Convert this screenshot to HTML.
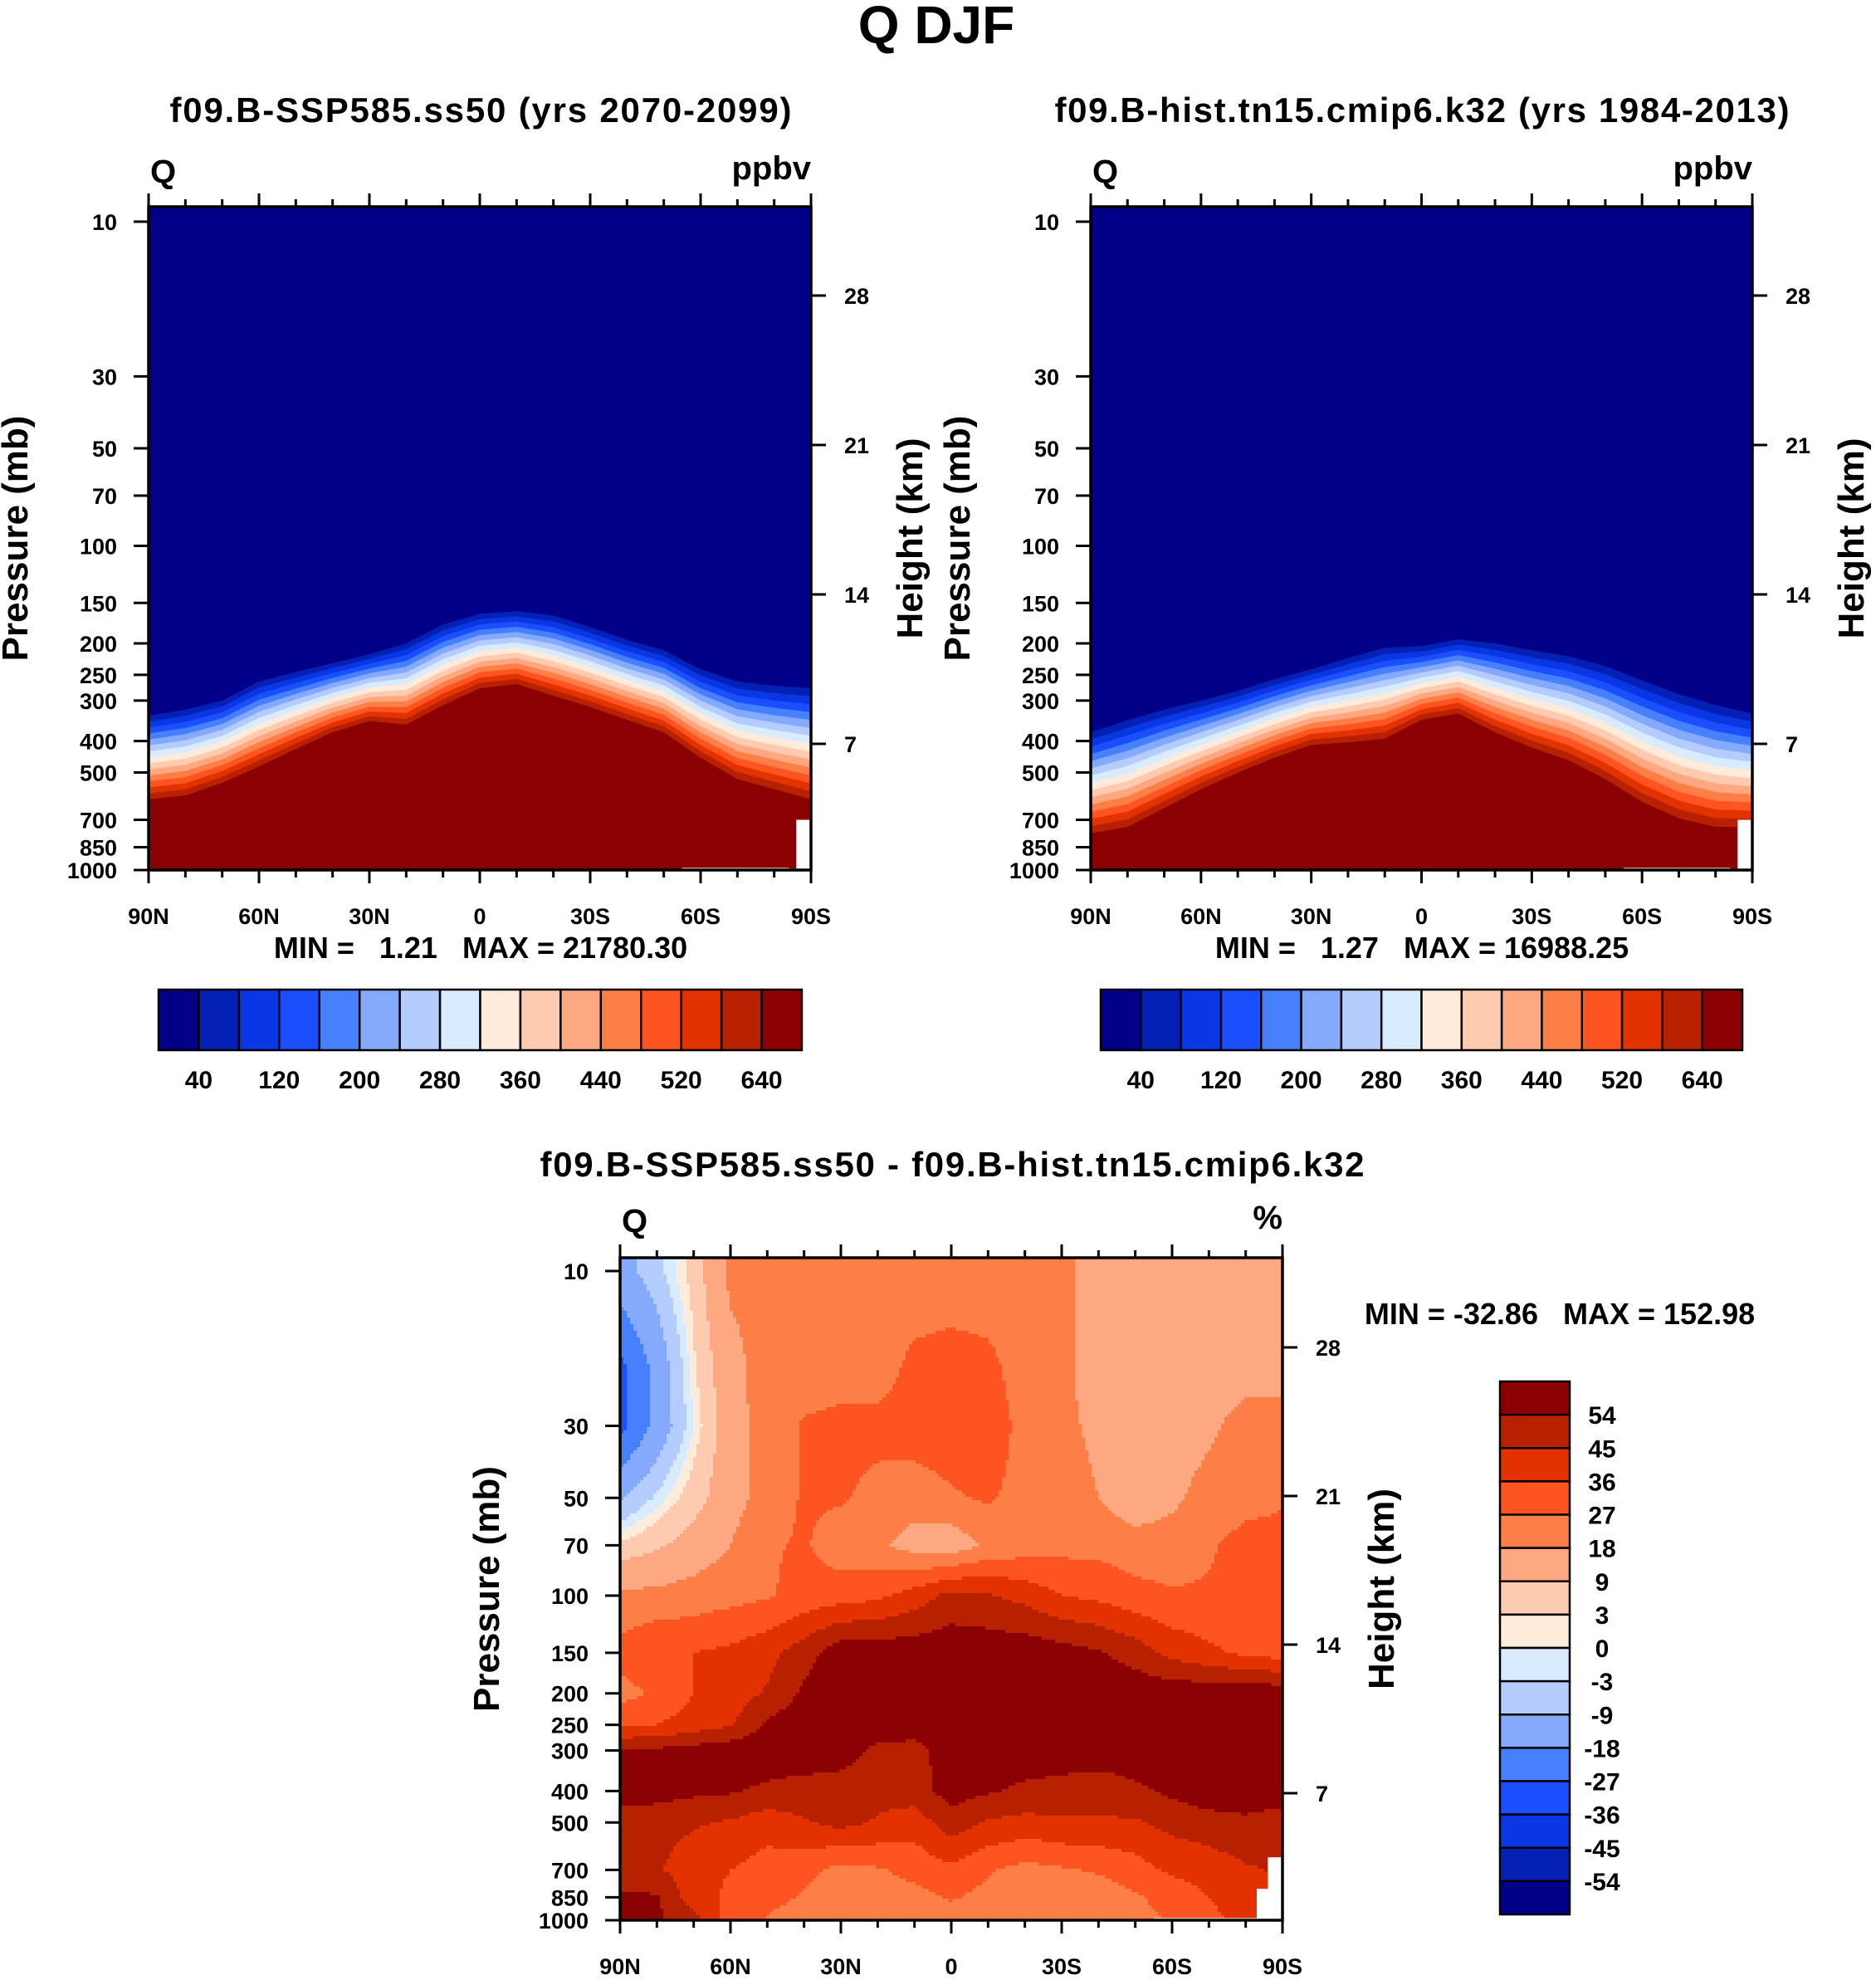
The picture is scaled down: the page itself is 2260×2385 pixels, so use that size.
<!DOCTYPE html>
<html><head><meta charset="utf-8">
<style>
html,body{margin:0;padding:0;background:#fff;}
#wrap{position:relative;width:2260px;height:2385px;overflow:hidden;}
svg{position:absolute;left:0;top:0;}
text{font-family:"Liberation Sans",Arial,sans-serif;font-weight:bold;fill:#000;white-space:pre;}
</style></head>
<body>
<div id="wrap">
<svg id="s" width="2260" height="2385" viewBox="0 0 2260 2385"></svg>
</div>
<script>
// ---------- data ----------
const lats = [90,80,70,60,50,40,30,20,10,0,-10,-20,-30,-40,-50,-60,-70,-80,-90];
// panel 1: pressure (mb) of the 40 ppbv contour and the 640 ppbv contour
const p1Top = [334,320,300,262,245,230,216,200,175,162,159,164,178,195,210,240,262,270,275];
const p1Bot = [605,589,538,479,423,376,347,356,310,275,267,290,314,344,376,450,524,563,605];
// panel 2
const p2Top = [376,345,320,300,280,258,240,222,206,204,194,200,210,219,235,260,287,310,329];
const p2Bot = [771,736,644,563,501,450,411,404,393,344,329,376,419,458,524,616,692,736,736];
const contourLabels = ['40','120','200','280','360','440','520','640'];
const diffLabels = ['54','45','36','27','18','9','3','0','-3','-9','-18','-27','-36','-45','-54'];
const diffLevels = [-54,-45,-36,-27,-18,-9,-3,0,3,9,18,27,36,45,54];
const plevs = [10,20,30,50,70,100,150,200,250,300,400,500,700,850,1000];
const diff = [
 [-12,-5,5,20,20,20,20,20,20,20,20,20,20,14,14,14,14,14,14],
 [-30,-15,2,15,22,22,22,22,30,32,30,22,20,14,12,12,12,14,14],
 [-30,-15,0,14,22,28,30,30,32,32,32,24,20,16,12,12,16,22,22],
 [-10,-2,6,14,22,28,28,24,22,26,28,24,22,18,12,16,22,24,26],
 [4,8,12,18,26,28,22,20,14,12,20,22,24,24,22,22,26,30,30],
 [20,20,22,24,26,30,32,34,40,48,46,42,36,34,30,28,28,30,32],
 [30,36,36,38,42,50,60,60,60,60,60,60,58,55,50,42,38,34,32],
 [24,28,36,40,46,56,60,60,60,60,60,60,60,60,60,60,60,60,60],
 [34,36,40,44,56,60,60,60,60,60,60,60,60,60,60,60,60,60,60],
 [55,56,58,60,60,60,58,52,50,60,60,60,60,60,60,60,60,60,60],
 [58,58,56,55,52,50,50,48,50,58,55,52,50,48,52,56,60,60,58],
 [50,48,46,44,40,44,48,44,40,50,44,42,44,44,44,48,50,52,50],
 [48,46,40,36,32,30,24,26,30,34,28,24,26,28,32,38,40,44,46],
 [56,55,40,34,30,26,20,22,24,28,24,20,20,22,26,30,36,40,42],
 [58,56,48,32,26,22,20,20,22,22,20,18,20,26,24,28,34,38,40]
];
const colors = ['#020087','#0521B5','#0837E3','#1B4FFD','#4680FD','#84A9FD','#B5CDFE','#D9EBFF','#FFEBD9','#FECBB0','#FEA882','#FE7E48','#FE5421','#E23200','#B82100','#8B0000'];
const pTicks = [10,30,50,70,100,150,200,250,300,400,500,700,850,1000];
const hTicks = [7,14,21,28];
const latTickLabels = ['90N','60N','30N','0','30S','60S','90S'];

// ---------- helpers ----------
const NS='http://www.w3.org/2000/svg';
const svg=document.getElementById('s');
function el(tag,attrs,parent){const e=document.createElementNS(NS,tag);for(const k in attrs)e.setAttribute(k,attrs[k]);(parent||svg).appendChild(e);return e;}
function txt(x,y,s,size,anchor,parent){const t=el('text',{x:x,y:y,'font-size':size,'text-anchor':anchor||'middle'},parent);t.textContent=s;return t;}

function makeAxes(P){
  P.xs = lat => P.x0 + (90-lat)/180*(P.x1-P.x0);
  P.ys = p => P.y10 + (Math.log10(p)-1)/2*(P.y1000-P.y10);
  P.yh = h => P.yh7 + (h-7)/7*(P.yh14-P.yh7);
}
function frame(P,name,unit){
  const g=el('g',{});  
  el('rect',{x:P.x0,y:P.y0,width:P.x1-P.x0,height:P.y1000-P.y0,fill:'none',stroke:'#000','stroke-width':3.5},g);
  for(let lat=90;lat>=-90;lat-=10){
    const x=P.xs(lat), major=(lat%30===0), L=major?16:9;
    el('line',{x1:x,y1:P.y0,x2:x,y2:P.y0-L,stroke:'#000','stroke-width':3},g);
    el('line',{x1:x,y1:P.y1000,x2:x,y2:P.y1000+L,stroke:'#000','stroke-width':3},g);
  }
  latTickLabels.forEach((s,i)=>{const t=txt(P.xs(90-30*i),P.latY,s,27,'middle',g);
     });
  pTicks.forEach(p=>{const y=P.ys(p);
    el('line',{x1:P.x0,y1:y,x2:P.x0-18,y2:y,stroke:'#000','stroke-width':3},g);
    const t=txt(P.x0-38,y+10,String(p),27,'end',g);
     });
  hTicks.forEach(h=>{const y=P.yh(h);
    el('line',{x1:P.x1,y1:y,x2:P.x1+18,y2:y,stroke:'#000','stroke-width':3},g);
    const t=txt(P.x1+40,y+10,String(h),27,'start',g);
     });
  const q=txt(P.x0+2,P.qY,'Q',40,'start',g);  
  const u=txt(P.x1,P.qY-4,unit,40,'end',g);  
  const cy=(P.y0+P.y1000)/2;
  const yt=txt(0,0,'Pressure (mb)',44,'middle',g);
  yt.setAttribute('transform',`translate(${P.x0-146},${cy}) rotate(-90)`);
   
  const ht=txt(0,0,'Height (km)',44,'middle',g);
  ht.setAttribute('transform',`translate(${P.x1+134},${cy}) rotate(-90)`);
   
}

function bandPanel(P,top,bot,name){
  const g=el('g',{});  
  const cp=el('clipPath',{id:name+'clip'},g);
  el('rect',{x:P.x0,y:P.y0,width:P.x1-P.x0,height:P.y1000-P.y0},cp);
  const gg=el('g',{'clip-path':`url(#${name}clip)`},g);
  const bg=el('rect',{x:P.x0,y:P.y0,width:P.x1-P.x0,height:P.y1000-P.y0,fill:colors[0]},gg);
   
  const N=14;
  function lev(i,f){const a=Math.log10(top[i]),b=Math.log10(bot[i]);return Math.pow(10,a+(b-a)*f);}
  for(let k=1;k<=15;k++){
    const f0=(k-1)/N;
    let pts=[];
    lats.forEach((lat,i)=>pts.push(P.xs(lat)+','+P.ys(lev(i,f0))));
    pts.push(P.x1+','+P.y1000); pts.push(P.x0+','+P.y1000);
    const poly=el('polygon',{points:pts.join(' '),fill:colors[k]},gg);
     
  }
  el('rect',{x:P.xs(-86),y:P.ys(700),width:P.x1-P.xs(-86)+2,height:P.y1000-P.ys(700)+2,fill:'#fff'},gg);
  el('rect',{x:P.xs(-84),y:P.ys(990),width:P.x1-P.xs(-84)+2,height:20,fill:'#fff'},gg);
  el('rect',{x:P.xs(-55),y:P.ys(985),width:P.xs(-84)-P.xs(-55),height:3,fill:'#fff'},gg);
}

function hBar(x,y,w,h,name){
  const g=el('g',{});  
  const bw=w/16;
  colors.forEach((c,i)=>{const r=el('rect',{x:x+i*bw,y:y,width:bw,height:h,fill:c,stroke:'#000','stroke-width':2.5},g);
     });
  contourLabels.forEach((s,i)=>{const t=txt(x+(2*i+1)*bw,y+h+46,s,30,'middle',g);
     });
}

// ---------- titles ----------
let t=txt(1128,52,'Q DJF',64);  
t=txt(579,147,'f09.B-SSP585.ss50 (yrs 2070-2099)',42); t.setAttribute('textLength','749');
 
t=txt(1713,147,'f09.B-hist.tn15.cmip6.k32 (yrs 1984-2013)',42); t.setAttribute('textLength','885');
 
t=txt(1147,1417,'f09.B-SSP585.ss50 - f09.B-hist.tn15.cmip6.k32',42); t.setAttribute('textLength','993');
 

// ---------- panel 1 & 2 ----------
const P1={x0:179,x1:977,y0:249,y10:267,y1000:1048,yh7:896,yh14:716,latY:1113,qY:220};
const P2={x0:1314,x1:2111,y0:249,y10:267,y1000:1048,yh7:896,yh14:716,latY:1113,qY:220};
makeAxes(P1); makeAxes(P2);
bandPanel(P1,p1Top,p1Bot,'panel1');
bandPanel(P2,p2Top,p2Bot,'panel2');
frame(P1,'panel1','ppbv'); frame(P2,'panel2','ppbv');
t=txt(579,1154,'MIN =   1.21   MAX = 21780.30',36);
 
t=txt(1713,1154,'MIN =   1.27   MAX = 16988.25',36);
 
hBar(191,1192,775,73,'panel1-colorbar');
hBar(1326,1192,773,73,'panel2-colorbar');

// ---------- difference panel ----------
const P3={x0:747,x1:1545,y0:1515,y10:1531,y1000:2313,yh7:2160,yh14:1981,latY:2378,qY:1484};
makeAxes(P3);
(function(){
  const g=el('g',{});  
  const cp=el('clipPath',{id:'p3clip'},g);
  el('rect',{x:P3.x0,y:P3.y0,width:P3.x1-P3.x0,height:P3.y1000-P3.y0},cp);
  const gg=el('g',{'clip-path':'url(#p3clip)'},g);
  const lp=plevs.map(p=>Math.log10(p));
  function val(lat,p){
    let fi=(90-lat)/10; let i=Math.min(17,Math.max(0,Math.floor(fi))); let fx=Math.min(1,Math.max(0,fi-i));
    const l=Math.log10(Math.max(10,Math.min(1000,p)));
    let j=0; while(j<lp.length-2 && l>lp[j+1]) j++;
    const fy=Math.min(1,Math.max(0,(l-lp[j])/(lp[j+1]-lp[j])));
    const a=diff[j][i]*(1-fx)+diff[j][i+1]*fx, b=diff[j+1][i]*(1-fx)+diff[j+1][i+1]*fx;
    return a*(1-fy)+b*fy;
  }
  function ci(v){let k=0;while(k<diffLevels.length && v>=diffLevels[k])k++;return k;}
  const step=4;
  function cell(x0,x1,y,c){
    const r=el('rect',{x:x0,y:y,width:x1-x0+0.6,height:step+0.6,fill:colors[c]},gg);
     
  }
  for(let y=P3.y0;y<P3.y1000;y+=step){
    const p=Math.pow(10,1+(y+step/2-P3.y10)/(P3.y1000-P3.y10)*2);
    let runStart=P3.x0, runC=-1;
    for(let x=P3.x0;x<P3.x1;x+=step){
      const lat=90-(x+step/2-P3.x0)/(P3.x1-P3.x0)*180;
      const c=ci(val(lat,p));
      if(c!==runC){
        if(runC>=0) cell(runStart,x,y,runC);
        runStart=x; runC=c;
      }
    }
    if(runC>=0) cell(runStart,P3.x1,y,runC);
  }
  el('rect',{x:P3.xs(-86),y:P3.ys(640),width:P3.x1-P3.xs(-86)+2,height:P3.y1000-P3.ys(640)+2,fill:'#fff'},gg);
  el('rect',{x:P3.xs(-83),y:P3.ys(800),width:P3.x1-P3.xs(-83)+2,height:P3.y1000-P3.ys(800)+2,fill:'#fff'},gg);
  el('rect',{x:P3.xs(-55),y:P3.ys(985),width:P3.xs(-83)-P3.xs(-55),height:4,fill:'#fff'},gg);
})();
frame(P3,'diff-panel','%');
t=txt(1879,1595,'MIN = -32.86   MAX = 152.98',36);
 
(function(){
  const g=el('g',{});  
  const x=1807,y=1664,w=84,h=642,bh=h/16;
  for(let i=0;i<16;i++){const r=el('rect',{x:x,y:y+i*bh,width:w,height:bh,fill:colors[15-i],stroke:'#000','stroke-width':2.5},g);
     }
  diffLabels.forEach((s,i)=>{const t=txt(1930,y+(i+1)*bh+11,s,30,'middle',g);
     });
})();
</script>
</body></html>
